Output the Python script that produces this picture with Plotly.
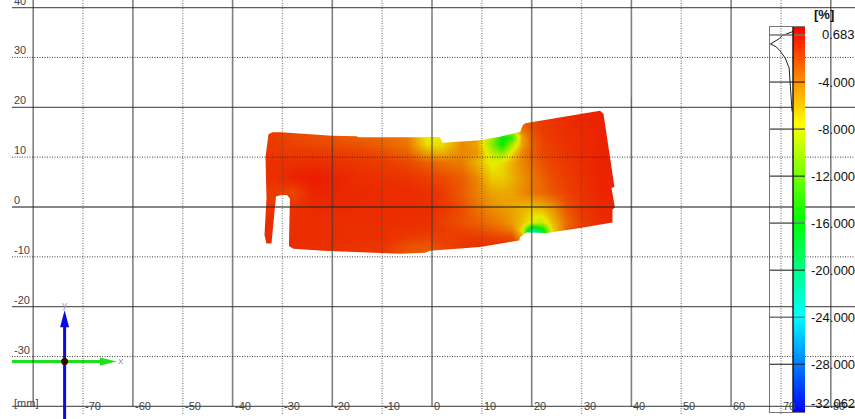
import plotly.graph_objects as go

# ---------- data ----------
grid_x = [-36,-32,-28,-24,-20,-15,-10,-5,-1,2,6,9,12,14,16,18,20,22,24,27,30,34,38]
grid_y = [-10,-8,-6,-4.5,-3,0,3,6,9,11,12.5,14,16,20]
strain = [
 [-.9,-.9,-.9,-.9,-1.0,-1.1,-1.2,-2.4,-2.4,-1.8,-1.2,-1.0,-.9,-.9,-1.0,-1.5,-2,-2,-1.5,-1.2,-1,-.8,-.8],
 [-.9,-.9,-.9,-.9,-1.0,-1.1,-1.2,-2.2,-2.4,-1.8,-1.2,-1.0,-.9,-.9,-1.0,-1.5,-2,-2,-1.5,-1.2,-1,-.8,-.8],
 [-.8,-.8,-.9,-.9,-.9,-1.0,-1.0,-1.4,-1.6,-1.5,-1.4,-1.3,-1.5,-1.6,-1.8,-5,-25,-20,-8,-2,-1.2,-.8,-.8],
 [-.8,-.8,-.9,-.9,-.9,-1.0,-1.0,-1.1,-1.2,-1.4,-1.6,-2.0,-2.6,-3.0,-3.6,-7,-21,-17,-7,-2.4,-1.3,-.8,-.8],
 [-.8,-.8,-.9,-.9,-.9,-.9,-.9,-1.0,-1.0,-1.5,-2.2,-2.6,-3.3,-3.8,-4.8,-6,-8,-9,-6,-3,-1.5,-.8,-.8],
 [-1,-1.2,-1.0,-.8,-.7,-.8,-.8,-.8,-.9,-1.2,-2.0,-3.3,-4.3,-4.7,-5,-5.5,-6,-5.5,-4.5,-2.2,-1.2,-.7,-.7],
 [-1,-1.4,-1.8,-.6,-.6,-.7,-.8,-.8,-1.0,-1.3,-2.5,-3.8,-5,-5.2,-5,-4.2,-3.5,-3,-2.3,-1.6,-1.1,-.6,-.6],
 [-.9,-1.0,-.5,-.3,-.5,-.9,-1.0,-1.1,-1.5,-1.9,-2.6,-4,-6.5,-6.5,-5.5,-4.5,-3.5,-2.8,-2,-1.4,-1,-.5,-.5],
 [-1,-1.0,-1.0,-.9,-1.0,-1.2,-1.4,-1.8,-2.6,-3.2,-3.6,-5.5,-7.8,-7,-5.5,-4,-3,-2.2,-1.7,-1.2,-.9,-.5,-.5],
 [-1.1,-1.2,-1.3,-1.3,-1.4,-1.6,-2.0,-2.8,-5,-5.5,-4.0,-4.6,-9,-11,-7,-4,-2.6,-1.8,-1.5,-1.1,-.8,-.5,-.5],
 [-1.2,-1.3,-1.6,-1.7,-1.9,-2.2,-2.7,-3.4,-7,-7,-4.2,-5,-11,-15.5,-10,-5,-2.8,-1.8,-1.4,-1,-.8,-.5,-.5],
 [-1.3,-1.4,-1.8,-2.0,-2.2,-2.6,-3.0,-3.6,-7.5,-7.5,-4.4,-5,-10,-16,-14,-5,-2.5,-1.6,-1.3,-1,-.8,-.5,-.5],
 [-1.3,-1.4,-1.8,-2.0,-2.2,-2.6,-3.0,-3.6,-7.5,-7.5,-4.4,-5,-6,-8,-7,-3,-2,-1.4,-1.2,-.9,-.7,-.5,-.5],
 [-1.3,-1.4,-1.8,-2.0,-2.2,-2.6,-3.0,-3.6,-7.5,-7.5,-4.4,-5,-6,-8,-7,-3,-1.6,-1.2,-1.0,-.8,-.6,-.5,-.5],
]
outline_x = [-32.8,-32.0,-30.2,-20.1,-15.1,-14.8,-1.7,-0.1,1.6,2.1,9.6,13.6,17.7,18.2,18.7,33.7,34.4,36.6,36.0,36.7,36.2,36.2,29.7,23.0,19.0,17.7,17.5,9.6,-0.4,-1.4,-6.4,-21.8,-27.8,-28.7,-28.5,-29.1,-30.2,-31.3,-32.2,-33.2,-33.6,-33.2,-33.4]
outline_y = [14.6,15.0,15.0,14.3,14.2,14.0,14.0,14.1,14.0,12.9,13.4,14.1,15.1,16.4,16.8,19.3,18.7,4.0,3.8,-0.1,-0.5,-3.1,-4.2,-5.2,-5.1,-6.0,-6.7,-8.0,-8.8,-9.2,-9.4,-8.8,-8.4,-7.8,1.7,2.4,2.4,2.1,-7.3,-7.3,-5.6,1.7,10.1]

z_min, z_max = -32.062, 0.683
bar_levels = [0.683,-4,-8,-12,-16,-20,-24,-28,-32.062]
bar_labels = ["0.683","-4.000","-8.000","-12.000","-16.000","-20.000","-24.000","-28.000","-32.062"]
bar_label_nudge = [-7,0,0,0,0,0,0,0,9]
dark_levels = [-4,-12,-20,-28]
grey_levels = [0,-8,-16,-24]

hist_value = [0.3,0.08,-0.05,-0.3,-0.5,-0.76,-1.0,-1.36,-1.95,-2.8,-4,-5.3,-6.5]
hist_count = [0,0.3,0.48,0.6,0.8,1.0,0.74,0.57,0.35,0.17,0.13,0.09,0.04]

major_x = [-80,-60,-40,-20,0,20,40,60,80]
minor_x = [-70,-50,-30,-10,10,30,50,70]
major_y = [-40,-20,0,20,40]
minor_y = [-30,-10,10,30]
label_x = [-70,-60,-50,-40,-30,-20,-10,0,10,20,30,40,50,60,70,80]
label_y = [-30,-20,-10,0,10,20,30,40]

red_map = [[0,"rgb(0,0,235)"],[.25,"rgb(0,235,235)"],[.5,"rgb(0,235,0)"],[.75,"rgb(235,235,0)"],[1,"rgb(235,0,0)"]]
rainbow = [[0,"rgb(0,0,255)"],[.25,"rgb(0,255,255)"],[.5,"rgb(0,255,0)"],[.75,"rgb(255,255,0)"],[1,"rgb(255,0,0)"]]

W, H = 855, 419
X0, Y0, SCALE = 432.0, 207.0, 4.985
x_left, x_right = -X0/SCALE, (W-X0)/SCALE
y_bottom, y_top = (Y0-H)/SCALE, Y0/SCALE
hist_l, bar_l, bar_r = 770, 793, 805
bar_top, bar_bot = 27, 412
line_l = (12-X0)/SCALE
bar_lx, bar_rx = (bar_l-X0)/SCALE, (bar_r-X0)/SCALE
y_bar_top = (Y0-bar_top)/SCALE

def spans(v):
    # horizontal grid lines pass behind the colour bar, and run on above it
    if v > y_bar_top:
        return ((line_l, x_right),)
    return ((line_l, bar_lx), (bar_rx, x_right))

fig = go.Figure()
fig.add_trace(go.Heatmap(x=grid_x, y=grid_y, z=strain, zmin=z_min, zmax=z_max, zsmooth="best",
                         colorscale=red_map, showscale=False, hoverinfo="skip"))
fig.add_trace(go.Heatmap(x=[0], y=bar_levels, z=[[v] for v in bar_levels], zmin=z_min, zmax=z_max, zsmooth="best",
                         colorscale=rainbow, showscale=False, xaxis="x3", yaxis="y2", hoverinfo="skip"))
fig.add_trace(go.Scatter(x=hist_count, y=hist_value, mode="lines", xaxis="x2", yaxis="y2",
                         line=dict(color="#222", width=1), hoverinfo="skip", showlegend=False))

# coordinate gizmo
gx, gy = -73.7, -31.0
gx_tip, gy_tip = -63.2, -20.7
fig.add_trace(go.Scatter(x=[line_l, gx_tip-3], y=[gy, gy], mode="lines", line=dict(color="#1fe01f", width=3), showlegend=False, hoverinfo="skip"))
fig.add_trace(go.Scatter(x=[gx_tip-3.4, gx_tip, gx_tip-3.4], y=[gy-.8, gy, gy+.8], fill="toself", mode="none", fillcolor="#1fe01f", showlegend=False, hoverinfo="skip"))
fig.add_trace(go.Scatter(x=[gx, gx], y=[y_bottom, gy_tip-3], mode="lines", line=dict(color="#0a0ae6", width=3), showlegend=False, hoverinfo="skip"))
fig.add_trace(go.Scatter(x=[gx-.9, gx, gx+.9], y=[gy_tip-3.4, gy_tip, gy_tip-3.4], fill="toself", mode="none", fillcolor="#0a0ae6", showlegend=False, hoverinfo="skip"))
fig.add_trace(go.Scatter(x=[gx], y=[gy], mode="markers", marker=dict(color="#3a0505", size=7), showlegend=False, hoverinfo="skip"))

shapes = []
# white mask around the specimen outline
rx0, rx1, ry0, ry1 = -40, 40, -13, 23
path = f"M{rx0},{ry0} L{rx1},{ry0} L{rx1},{ry1} L{rx0},{ry1} Z M" + " L".join(f"{a},{b}" for a, b in zip(outline_x, outline_y)) + " Z"
shapes.append(dict(type="path", path=path, fillcolor="white", line=dict(width=0), fillrule="evenodd", layer="above", xref="x", yref="y"))

for v in major_x:
    shapes.append(dict(type="line", x0=v, x1=v, y0=-40, y1=y_top, xref="x", yref="y", layer="above",
                       line=dict(color="rgba(60,60,60,0.65)", width=1.6)))
for v in minor_x:
    shapes.append(dict(type="line", x0=v, x1=v, y0=y_bottom+1, y1=y_top, xref="x", yref="y", layer="above",
                       line=dict(color="rgba(70,70,70,0.6)", width=1.4, dash="1px,1.5px")))
for v in major_y:
    for a, b in spans(v):
        shapes.append(dict(type="line", x0=a, x1=b, y0=v, y1=v, xref="x", yref="y", layer="above",
                           line=dict(color="rgba(40,40,40,0.75)", width=1.3)))
for v in minor_y:
    for a, b in spans(v):
        shapes.append(dict(type="line", x0=a, x1=b, y0=v, y1=v, xref="x", yref="y", layer="above",
                           line=dict(color="rgba(30,30,30,0.85)", width=1, dash="1px,1.5px")))
for v in grey_levels:
    shapes.append(dict(type="line", x0=hist_l/W, x1=bar_r/W, y0=v, y1=v, xref="paper", yref="y2", layer="above",
                       line=dict(color="#777", width=1.6)))
for v in dark_levels:
    shapes.append(dict(type="line", x0=hist_l/W, x1=bar_r/W, y0=v, y1=v, xref="paper", yref="y2", layer="above",
                       line=dict(color="#111", width=1)))
shapes.append(dict(type="line", x0=bar_l/W, x1=bar_l/W, y0=z_min, y1=z_max, xref="paper", yref="y2", layer="above",
                   line=dict(color="#111", width=1.4)))

anns = []
tick_font = dict(family="Liberation Sans", size=11, color="#444")
for v in label_x:
    anns.append(dict(x=v, y=-40, xref="x", yref="y", text=str(v), showarrow=False, xanchor="left", yanchor="middle",
                     xshift=0, yshift=0, font=tick_font))
for v in label_y:
    anns.append(dict(x=line_l, y=v, xref="x", yref="y", text=str(v), showarrow=False, xanchor="left", yanchor="middle",
                     xshift=0, yshift=7, font=tick_font))
anns.append(dict(x=line_l, y=-40, xref="x", yref="y", text="[mm]", showarrow=False, xanchor="left", yanchor="middle",
                 xshift=0, yshift=3, font=tick_font))
anns.append(dict(x=gx_tip+.8, y=gy+.2, xref="x", yref="y", text="x", showarrow=False, font=dict(family="DejaVu Sans", size=9, color="#999")))
anns.append(dict(x=gx, y=gy_tip+1.1, xref="x", yref="y", text="y", showarrow=False, font=dict(family="DejaVu Sans", size=9, color="#999")))
bar_font = dict(family="Liberation Sans", size=13, color="#111")
for v, t, n in zip(bar_levels, bar_labels, bar_label_nudge):
    anns.append(dict(x=1, y=v, xref="paper", yref="y2", text=t, showarrow=False, xanchor="right", yanchor="middle",
                     yshift=n, xshift=2, font=bar_font))
anns.append(dict(x=824/W, y=1-14/H, xref="paper", yref="paper", text="<b>[%]</b>", showarrow=False,
                 xanchor="center", yanchor="middle", font=dict(family="Liberation Sans", size=13, color="#111")))

box_axis = dict(showgrid=False, zeroline=False, showticklabels=False, ticks="", showline=True, mirror=True,
                linecolor="#777", linewidth=1.4)
fig.update_layout(
    width=W, height=H, margin=dict(l=0, r=0, t=0, b=0, pad=0), paper_bgcolor="white", plot_bgcolor="rgba(0,0,0,0)",
    showlegend=False, shapes=shapes, annotations=anns,
    xaxis=dict(range=[x_left, x_right], domain=[0, 1], visible=False),
    yaxis=dict(range=[y_bottom, y_top], domain=[0, 1], visible=False),
    xaxis2=dict(range=[1.02, 0], domain=[hist_l/W, bar_l/W], anchor="y2", **box_axis),
    yaxis2=dict(range=[z_min, z_max], domain=[1-bar_bot/H, 1-bar_top/H], anchor="x2", **box_axis),
    xaxis3=dict(range=[-.5, .5], domain=[bar_l/W, bar_r/W], anchor="y2", **box_axis),
)
fig.write_html("out.html", config=dict(displayModeBar=False),
               post_script="document.body.style.margin='0';document.body.style.overflow='hidden';")
